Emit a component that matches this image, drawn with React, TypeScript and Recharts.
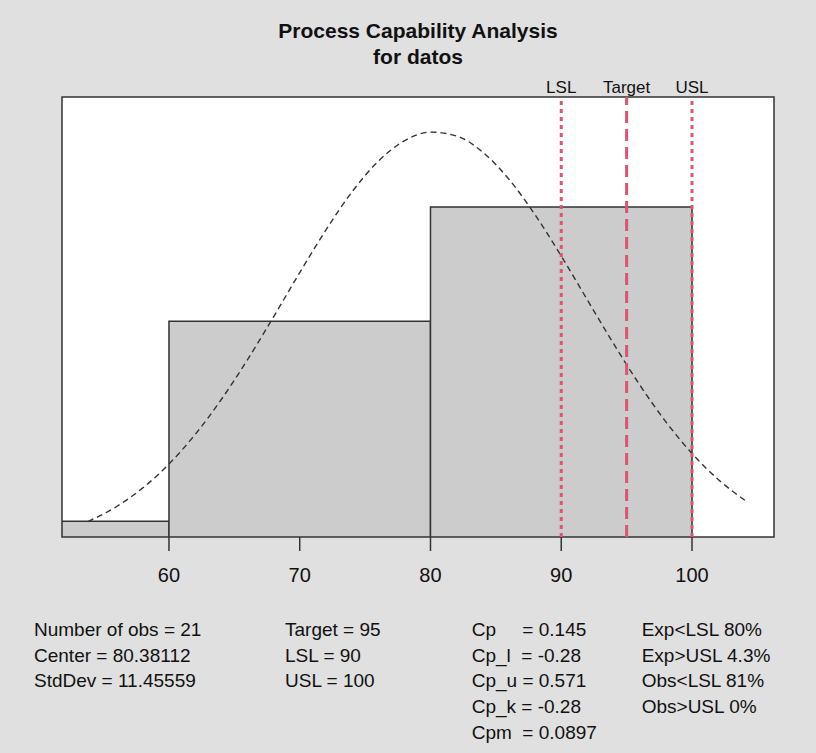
import React from 'react';
import { ComposedChart, Line, XAxis, YAxis, ReferenceArea, ReferenceLine } from 'recharts';

// Histogram bins (density scale): start, end, density
const binStarts = [40, 60, 80];
const binEnds = [60, 80, 100];
const binDensity = [0.00238, 0.01905, 0.02857];

// Fitted normal curve
const curveX = [53.8, 56, 58, 60, 62, 64, 66, 68, 70, 72, 74, 76, 78, 80, 82, 84, 86, 88, 90, 92, 94, 96, 98, 100, 102, 104.2];
const curveY = [0.00236, 0.003616, 0.005165, 0.007154, 0.009612, 0.012528, 0.015837, 0.01942, 0.023098, 0.026649, 0.029822, 0.032369, 0.034081, 0.034806, 0.034479, 0.03313, 0.030878, 0.027915, 0.024479, 0.02082, 0.017178, 0.013747, 0.010672, 0.008035, 0.005868, 0.00401];

const xTicks = [60, 70, 80, 90, 100];
const specNames = ['LSL', 'Target', 'USL'];
const specValues = [90, 95, 100];

const titleLines = ['Process Capability Analysis', 'for datos'];
const statsCol1 = ['Number of obs = 21', 'Center = 80.38112', 'StdDev = 11.45559'];
const statsCol2 = ['Target = 95', 'LSL = 90', 'USL = 100'];
const statsCol3 = ['Cp     = 0.145', 'Cp_l  = -0.28', 'Cp_u = 0.571', 'Cp_k = -0.28', 'Cpm  = 0.0897'];
const statsCol4 = ['Exp<LSL 80%', 'Exp>USL 4.3%', 'Obs<LSL 81%', 'Obs>USL 0%'];

const X_MIN = 51.82;
const X_MAX = 106.27;
const Y_MIN = 0.001075;
const Y_MAX = 0.03773;

const RED = '#DF536B';
const FONT = '"Liberation Sans", Arial, Helvetica, sans-serif';

const curveData = curveX.map((x, i) => ({ x, density: curveY[i] }));

export default function App() {
  const rowH = 25.65;
  return (
    <div style={{ position: 'absolute', left: 0, top: 0, width: 816, height: 753, background: '#e0e0e0', fontFamily: FONT }}>
      <ComposedChart
        width={816}
        height={753}
        data={curveData}
        margin={{ top: 97, left: 62, right: 42, bottom: 166 }}
        style={{ position: 'absolute', left: 0, top: 0, fontFamily: FONT }}
      >
        <XAxis
          type="number"
          dataKey="x"
          domain={[X_MIN, X_MAX]}
          allowDataOverflow
          ticks={xTicks}
          interval={0}
          tickSize={14}
          tickMargin={17}
          axisLine={false}
          height={50}
          tick={{ fill: '#111', fontSize: 20, fontFamily: FONT }}
          tickLine={{ stroke: '#333', strokeWidth: 1.5 }}
        />
        <YAxis type="number" domain={[Y_MIN, Y_MAX]} allowDataOverflow hide />
        <ReferenceArea x1={X_MIN} x2={X_MAX} y1={Y_MIN} y2={Y_MAX} fill="#ffffff" fillOpacity={1} stroke="none" ifOverflow="visible" />
        {binStarts.map((s, i) => (
          <ReferenceArea
            key={'bin' + i}
            x1={s}
            x2={binEnds[i]}
            y1={0}
            y2={binDensity[i]}
            fill="#cccccc"
            fillOpacity={1}
            stroke="#333"
            strokeWidth={1.5}
            ifOverflow="hidden"
          />
        ))}
        <Line
          type="monotone"
          dataKey="density"
          stroke="#333"
          strokeWidth={1.4}
          strokeDasharray="6 4"
          dot={false}
          isAnimationActive={false}
        />
        {specValues.map((v, i) => (
          <ReferenceLine
            key={'spec' + i}
            x={v}
            stroke={RED}
            strokeWidth={3}
            strokeDasharray={specNames[i] === 'Target' ? '12 6' : '4 4'}
            label={{ value: specNames[i], position: 'top', offset: 4, fill: '#111', fontSize: 17, fontFamily: FONT }}
          />
        ))}
        <ReferenceArea x1={X_MIN} x2={X_MAX} y1={Y_MIN} y2={Y_MAX} fill="none" stroke="#333" strokeWidth={1.5} ifOverflow="visible" />
      </ComposedChart>
      <svg width={816} height={753} style={{ position: 'absolute', left: 0, top: 0, pointerEvents: 'none' }}>
        <text x={418} y={38.3} textAnchor="middle" fontSize={21} fontWeight="bold" fill="#111" fontFamily={FONT}>{titleLines[0]}</text>
        <text x={418} y={63.5} textAnchor="middle" fontSize={21} fontWeight="bold" fill="#111" fontFamily={FONT}>{titleLines[1]}</text>
        {statsCol1.map((t, i) => (
          <text key={'c1' + i} x={34} y={636 + i * rowH} fontSize={19} fill="#111" fontFamily={FONT} style={{ whiteSpace: 'pre' }}>{t}</text>
        ))}
        {statsCol2.map((t, i) => (
          <text key={'c2' + i} x={285} y={636 + i * rowH} fontSize={19} fill="#111" fontFamily={FONT} style={{ whiteSpace: 'pre' }}>{t}</text>
        ))}
        {statsCol3.map((t, i) => (
          <text key={'c3' + i} x={471.7} y={636 + i * rowH} fontSize={19} fill="#111" fontFamily={FONT} style={{ whiteSpace: 'pre' }}>{t}</text>
        ))}
        {statsCol4.map((t, i) => (
          <text key={'c4' + i} x={641.7} y={636 + i * rowH} fontSize={19} fill="#111" fontFamily={FONT} style={{ whiteSpace: 'pre' }}>{t}</text>
        ))}
      </svg>
    </div>
  );
}
